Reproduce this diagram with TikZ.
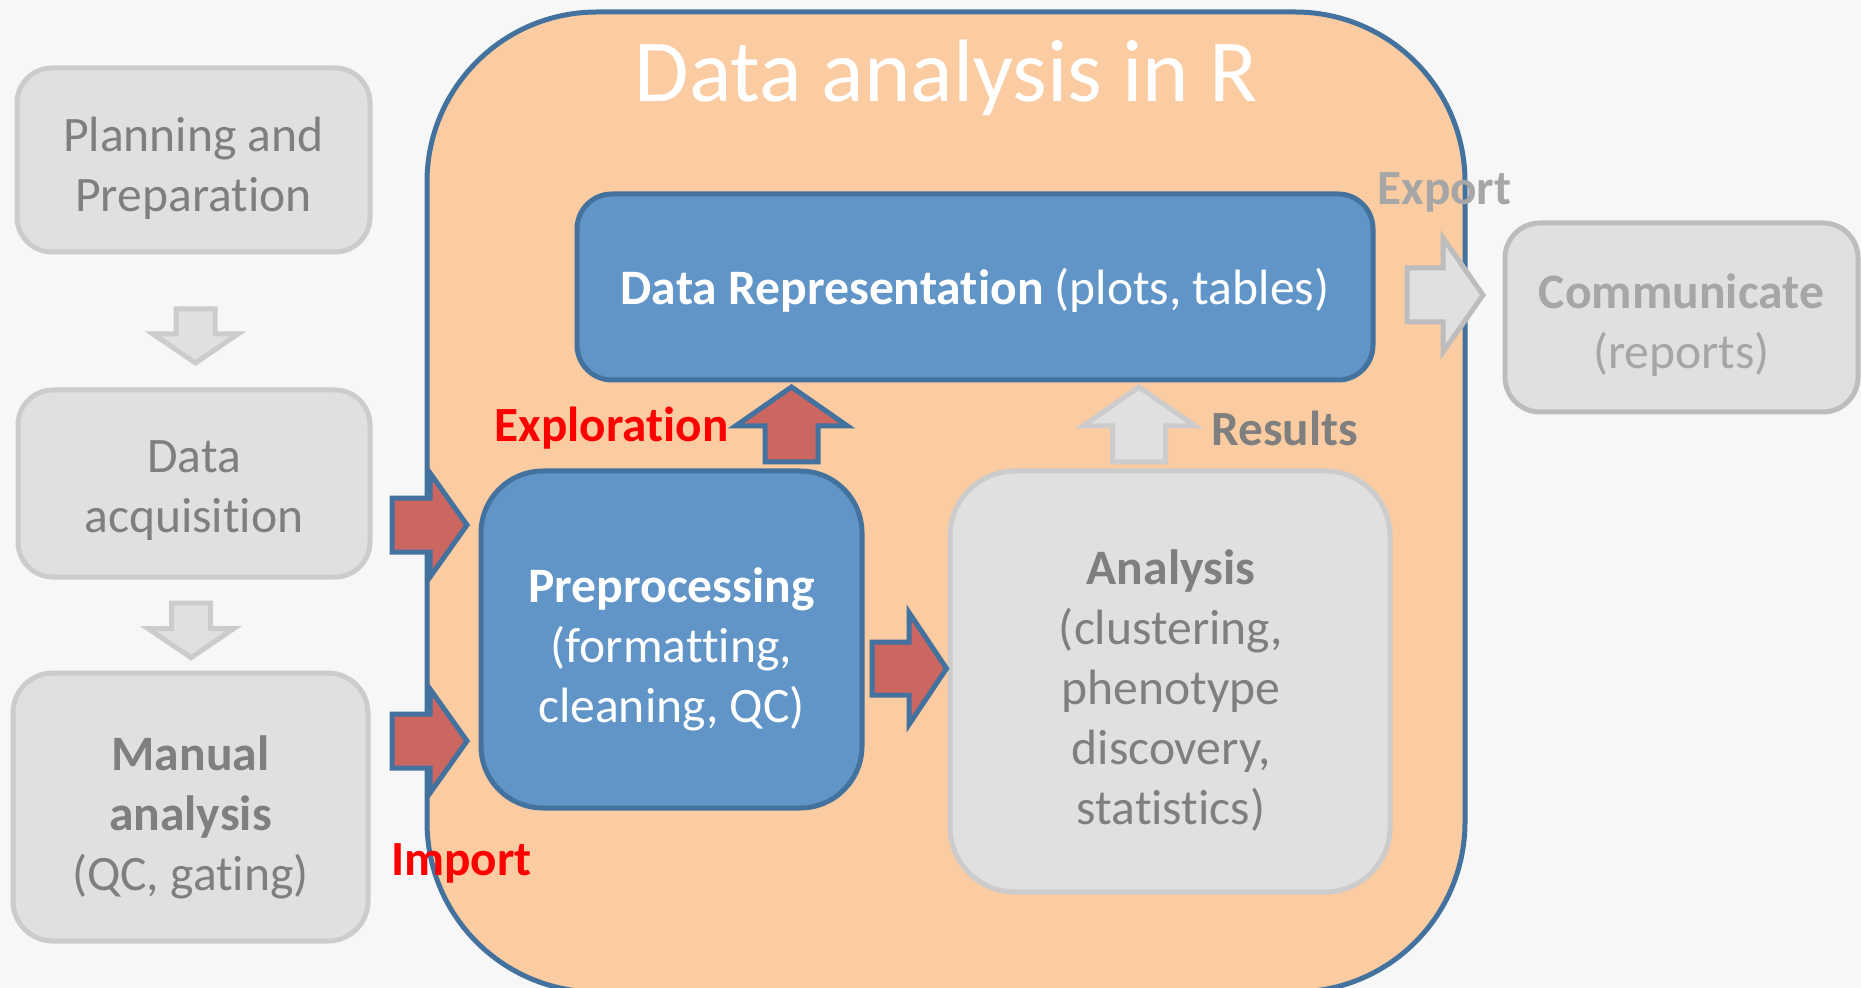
\documentclass[tikz,border=0pt]{standalone}
\usepackage{fontspec}
\setmainfont{Carlito}[Ligatures={NoCommon}]
\definecolor{bgc}{HTML}{F7F7F7}
\definecolor{grayfill}{HTML}{E0E0E0}
\definecolor{grayline}{HTML}{CCCCCC}
\definecolor{graylineb}{HTML}{BDBDBD}
\definecolor{graytext}{HTML}{7F7F7F}
\definecolor{lighttext}{HTML}{A6A6A6}
\definecolor{bluefill}{HTML}{6195C8}
\definecolor{blueline}{HTML}{44729F}
\definecolor{redfill}{HTML}{CC6660}
\definecolor{orangefill}{HTML}{FBCBA1}
\definecolor{labelred}{HTML}{FF0000}
\newcommand\blockH[7]{\draw[#1] (#2,{#3-#6}) -- (#4,{#3-#6}) -- (#4,{#3-#7}) -- (#5,#3) -- (#4,{#3+#7}) -- (#4,{#3+#6}) -- (#2,{#3+#6}) -- cycle;}
\newcommand\blockV[7]{\draw[#1] ({#2-#6},#3) -- ({#2-#6},#4) -- ({#2-#7},#4) -- (#2,#5) -- ({#2+#7},#4) -- ({#2+#6},#4) -- ({#2+#6},#3) -- cycle;}
\begin{document}
\begin{tikzpicture}[x=0.5pt,y=-0.5pt,
  graybox/.style={draw=grayline, fill=grayfill, line width=2.5pt, rounded corners=17.5pt, inner sep=0pt},
  bluebox/.style={draw=blueline, fill=bluefill, line width=2.5pt, inner sep=0pt},
  txt/.style={anchor=north, inner sep=0pt, align=center, font=\fontsize{24.8}{30}\selectfont, execute at begin node=\strut},
  lbl/.style={inner sep=0pt, font=\fontsize{24.6}{30}\selectfont\bfseries},
  redarrow/.style={fill=redfill, draw=blueline, line width=2.5pt, line join=miter},
  grayarrow/.style={fill=grayfill, draw=grayline, line width=2.5pt, line join=miter},
  grayarrowb/.style={fill=grayfill, draw=graylineb, line width=2.5pt, line join=miter}]
\useasboundingbox (0,0) rectangle (1861,988);
\fill[bgc] (0,0) rectangle (1861,988);

% big container
\node[draw=blueline, fill=orangefill, line width=2.5pt, rounded corners=85pt,
      minimum width=519pt, minimum height=490pt, inner sep=0pt] (rbox) at (946,502) {};
\node[anchor=base, inner sep=0pt, text=white, font=\fontsize{44.3}{50}\selectfont] (title) at (946,102) {Data analysis in R};

% inner boxes
\node[bluebox, rounded corners=17.5pt, minimum width=398pt, minimum height=93pt] (datarep) at (975,287) {};
\node[anchor=base, inner sep=0pt, text=white, font=\fontsize{24.8}{30}\selectfont] (datarep-t) at (975,305) {\textbf{Data Representation} (plots, tables)};

\node[bluebox, rounded corners=31pt, minimum width=190.5pt, minimum height=168.5pt] (prep) at (671.5,639.5) {};
\node[txt, text=white] (prep-t) at (671.5,567) {\textbf{Preprocessing}\\(formatting,\\cleaning, QC)};

\node[graybox, rounded corners=32.5pt, minimum width=220pt, minimum height=210.5pt] (analysis) at (1170,681.5) {};
\node[txt, text=graytext] (analysis-t) at (1171,549) {\textbf{Analysis}\\(clustering,\\phenotype\\discovery,\\statistics)};

% arrows inside
\blockV{redarrow}{791.5}{462}{426}{387}{26.5}{56}
\blockV{grayarrow}{1139}{462}{426}{387}{26.5}{56}
\blockH{redarrow}{872}{668.5}{909}{946.5}{26.5}{56}

\node[lbl, anchor=base east, text=labelred] (expl) at (729,442) {Exploration};
\node[lbl, anchor=base west, text=graytext] (res) at (1211,445) {Results};

% left column
\node[graybox, minimum width=176.5pt, minimum height=92pt] (plan) at (193.5,160) {};
\node[txt, text=graytext] (plan-t) at (193.5,117) {Planning and\\Preparation};
\blockV{grayarrow}{195.5}{309}{334}{363}{19.5}{42.5}

\node[graybox, minimum width=176pt, minimum height=93.5pt] (acq) at (194,483.5) {};
\node[txt, text=graytext] (acq-t) at (194,440) {Data\\acquisition};
\blockV{grayarrow}{191}{603}{628.5}{657.6}{19.5}{43}

\node[graybox, rounded corners=20pt, minimum width=177.5pt, minimum height=134pt] (manual) at (190.5,807) {};
\node[txt, text=graytext] (manual-t) at (190.5,735) {\textbf{Manual}\\\textbf{analysis}\\(QC, gating)};

% import
\blockH{redarrow}{392}{525}{430}{467}{27}{52}
\blockH{redarrow}{392}{741}{430}{467}{27}{52}
\node[lbl, anchor=base west, text=labelred] (imp) at (391,875) {Import};

% export
\node[graybox, draw=graylineb, minimum width=176.5pt, minimum height=94.5pt] (comm) at (1681.5,317.5) {};
\node[txt, text=lighttext] (comm-t) at (1681.5,273) {\textbf{Communicate}\\(reports)};
\blockH{grayarrowb}{1407}{295}{1443}{1483}{27}{57}
\node[lbl, anchor=base west, text=lighttext] (exp) at (1377,205) {Export};
\end{tikzpicture}
\end{document}
